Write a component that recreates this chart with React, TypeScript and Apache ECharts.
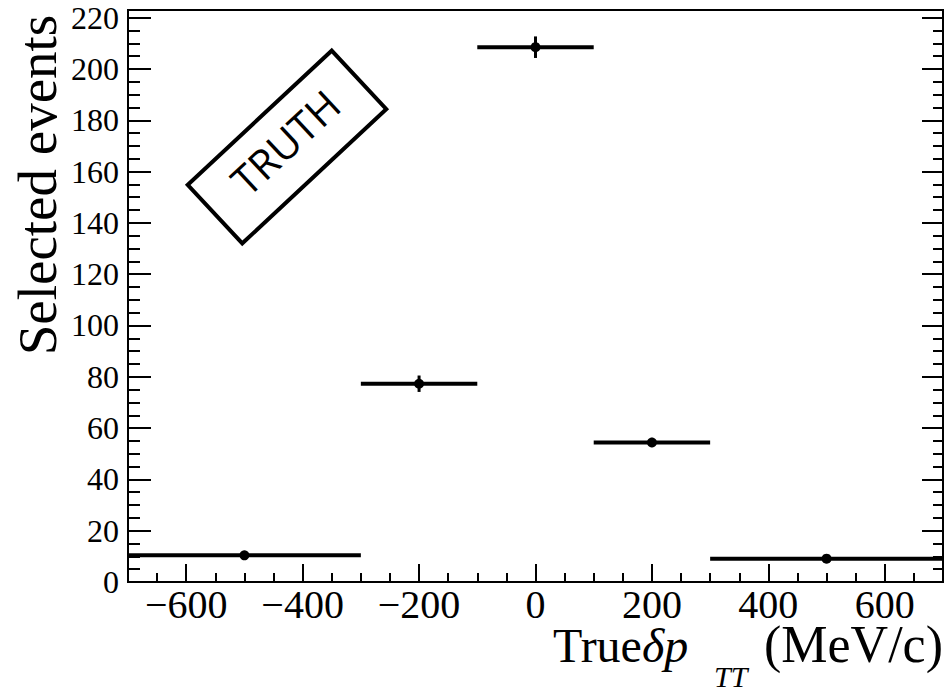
import React, { useEffect, useRef } from "react";
import * as echarts from "echarts";

// Histogram of selected events vs. true delta p_TT
const binEdges = [-700, -300, -100, 100, 300, 700];
const binCenters = [-500, -200, 0, 200, 500];
const selectedEvents = [10.4, 77.3, 208.5, 54.4, 9.1];
const statErrors = [1.2, 3.2, 4.2, 1.8, 1.1];
const xTickValues = [-600, -400, -200, 0, 200, 400, 600];
const yTickValues = [0, 20, 40, 60, 80, 100, 120, 140, 160, 180, 200, 220];

const SERIF = "Liberation Serif";

const fmtX = (v: number) => (v < 0 ? "\u2212" + Math.abs(v) : String(v));

export default function App() {
  const ref = useRef<HTMLDivElement>(null);

  useEffect(() => {
    if (!ref.current) return;
    const chart = echarts.init(ref.current, undefined, { renderer: "svg" });

    const rows = binCenters.map((c, i) => [
      binEdges[i],
      binEdges[i + 1],
      c,
      selectedEvents[i],
      statErrors[i],
    ]);

    const noLine = { show: false, onZero: false };
    const xBase = { type: "value", min: -700, max: 700, gridIndex: 0, splitLine: { show: false }, axisLine: noLine };
    const yBase = { type: "value", min: 0, max: 223, gridIndex: 0, splitLine: { show: false }, axisLine: noLine };
    const tickStyle = { color: "#000", width: 2 };

    // pieces of the x-axis title, placed by their vertical centre
    const titleText = (
      text: string,
      x: number,
      y: number,
      size: number,
      lineHeight: number,
      italic: boolean,
      align: string
    ) => ({
      type: "text",
      x,
      y,
      style: {
        text,
        fontFamily: SERIF,
        fontStyle: italic ? "italic" : "normal",
        fontSize: size,
        lineHeight,
        fill: "#000",
        textAlign: align,
        textVerticalAlign: "middle",
      },
    });

    chart.setOption({
      animation: false,
      backgroundColor: "#fff",
      grid: {
        left: 128,
        right: 8,
        top: 10,
        bottom: 109,
        show: true,
        borderColor: "#000",
        borderWidth: 2,
        backgroundColor: "transparent",
      },
      xAxis: [
        {
          ...xBase,
          position: "bottom",
          axisTick: { inside: true, length: 18, lineStyle: tickStyle, customValues: xTickValues },
          axisLabel: {
            customValues: xTickValues,
            formatter: fmtX,
            color: "#000",
            fontFamily: SERIF,
            fontSize: 40,
            lineHeight: 30,
            margin: 7,
          },
        },
        {
          ...xBase,
          position: "bottom",
          interval: 50,
          axisTick: { inside: true, length: 9, lineStyle: tickStyle },
          axisLabel: { show: false },
        },
      ],
      yAxis: [
        {
          ...yBase,
          position: "left",
          interval: 20,
          axisTick: { inside: true, length: 23, lineStyle: tickStyle, customValues: yTickValues },
          axisLabel: {
            customValues: yTickValues,
            color: "#000",
            fontFamily: SERIF,
            fontSize: 32,
            margin: 9,
          },
        },
        {
          ...yBase,
          position: "left",
          interval: 5,
          axisTick: { inside: true, length: 12, lineStyle: tickStyle },
          axisLabel: { show: false },
        },
        {
          ...yBase,
          position: "right",
          interval: 20,
          axisTick: { inside: true, length: 21, lineStyle: tickStyle, customValues: yTickValues },
          axisLabel: { show: false },
        },
        {
          ...yBase,
          position: "right",
          interval: 5,
          axisTick: { inside: true, length: 10, lineStyle: tickStyle },
          axisLabel: { show: false },
        },
      ],
      series: [
        {
          type: "custom",
          xAxisIndex: 0,
          yAxisIndex: 0,
          clip: false,
          data: rows,
          renderItem: (_params: any, api: any) => {
            const y = api.value(3);
            const e = api.value(4);
            const lo = api.coord([api.value(0), y]);
            const hi = api.coord([api.value(1), y]);
            const c = api.coord([api.value(2), y]);
            const eLo = api.coord([api.value(2), y - e]);
            const eHi = api.coord([api.value(2), y + e]);
            return {
              type: "group",
              children: [
                {
                  type: "line",
                  shape: { x1: lo[0], y1: lo[1], x2: hi[0], y2: hi[1] },
                  style: { stroke: "#000", lineWidth: 4 },
                },
                {
                  type: "line",
                  shape: { x1: c[0], y1: eLo[1], x2: c[0], y2: eHi[1] },
                  style: { stroke: "#000", lineWidth: 3 },
                },
                {
                  type: "circle",
                  shape: { cx: c[0], cy: c[1], r: 5 },
                  style: { fill: "#000" },
                },
              ],
            };
          },
        },
      ],
      graphic: [
        {
          type: "text",
          x: 37,
          y: 185,
          rotation: Math.PI / 2,
          style: {
            text: "Selected events",
            fontFamily: SERIF,
            fontSize: 55,
            fill: "#000",
            textAlign: "center",
            textVerticalAlign: "middle",
          },
        },
        titleText("True", 553, 645, 48, 36, false, "left"),
        titleText("\u03b4p", 642, 645, 48, 36, true, "left"),
        titleText("TT", 714, 676, 30, 24, true, "left"),
        titleText("(MeV/c)", 943, 644, 52, 40, false, "right"),
        {
          type: "group",
          x: 287,
          y: 147,
          rotation: (43 * Math.PI) / 180,
          children: [
            {
              type: "rect",
              shape: { x: -98.5, y: -40, width: 197, height: 80 },
              style: { fill: "none", stroke: "#000", lineWidth: 4, lineJoin: "miter" },
            },
            {
              type: "text",
              x: 2,
              y: -5,
              style: {
                text: "TRUTH",
                fontFamily: "Open Sans",
                fontSize: 41,
                fill: "#000",
                textAlign: "center",
                textVerticalAlign: "middle",
              },
            },
          ],
        },
      ],
    });

    return () => chart.dispose();
  }, []);

  return (
    <div
      ref={ref}
      style={{ position: "absolute", left: 0, top: 0, width: 951, height: 691 }}
    />
  );
}
